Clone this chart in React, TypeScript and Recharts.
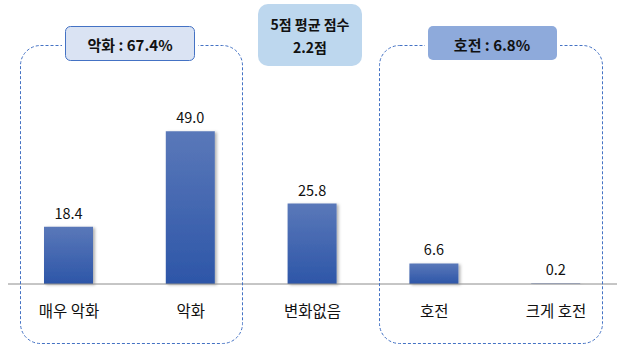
import { BarChart, Bar, XAxis, YAxis, LabelList } from "recharts";

const categories = ["매우 악화", "악화", "변화없음", "호전", "크게 호전"];
const values = [18.4, 49.0, 25.8, 6.6, 0.2];

const worseLabel = "악화 : 67.4%";
const betterLabel = "호전 : 6.8%";
const avgLines = ["5점 평균 점수", "2.2점"];

const data = categories.map((name, i) => ({ name, value: values[i] }));

const FONT = "'Noto Sans CJK KR', 'Noto Sans', sans-serif";

function CategoryTick(props: any) {
  const { x, y, payload } = props;
  return (
    <text
      x={x}
      y={y + 26}
      textAnchor="middle"
      dominantBaseline="central"
      fontSize={15.5}
      fontFamily={FONT}
      fill="#111"
    >
      {payload.value}
    </text>
  );
}

function Overlay() {
  const dash = "3 2";
  return (
    <svg
      width={625}
      height={346}
      style={{ position: "absolute", left: 0, top: 0, pointerEvents: "none" }}
      fontFamily={FONT}
    >
      {/* group frames */}
      <rect x={20.5} y={45.5} width={222} height={298} rx={20} fill="none" stroke="#4472c4" strokeDasharray={dash} />
      <rect x={379.5} y={45.5} width={223} height={298} rx={20} fill="none" stroke="#4472c4" strokeDasharray={dash} />

      {/* 악화 label */}
      <rect x={62} y={40} width={136} height={12} fill="#fff" />
      <rect x={65.5} y={26.5} width={129} height={34} rx={5} fill="#dae3f3" stroke="#4472c4" />
      <text x={130} y={44} textAnchor="middle" dominantBaseline="central" fontSize={15} fontWeight="bold" fill="#111">
        {worseLabel}
      </text>

      {/* 호전 label */}
      <rect x={425} y={40} width={135} height={12} fill="#fff" />
      <rect x={428} y={26} width={129} height={34} rx={5} fill="#8eaadb" />
      <text x={492} y={44} textAnchor="middle" dominantBaseline="central" fontSize={15} fontWeight="bold" fill="#111">
        {betterLabel}
      </text>

      {/* 평균 점수 */}
      <rect x={258} y={4} width={104} height={62} rx={10} fill="#bdd7ee" />
      <text x={310} y={24} textAnchor="middle" dominantBaseline="central" fontSize={14} fontWeight="bold" fill="#111">
        {avgLines[0]}
      </text>
      <text x={310} y={47} textAnchor="middle" dominantBaseline="central" fontSize={14} fontWeight="bold" fill="#111">
        {avgLines[1]}
      </text>
    </svg>
  );
}

export default function App() {
  return (
    <div style={{ position: "relative", width: 625, height: 346, background: "#fff" }}>
      <style>{`body{margin:0}`}</style>
      <BarChart
        width={625}
        height={346}
        data={data}
        margin={{ top: 97, right: 8, bottom: 22, left: 8 }}
      >
        <defs>
          <linearGradient id="barGrad" x1="0" y1="0" x2="0" y2="1">
            <stop offset="0%" stopColor="#5a78b9" />
            <stop offset="100%" stopColor="#2d56a8" />
          </linearGradient>
          <filter id="barShadow" x="-20%" y="-20%" width="150%" height="140%">
            <feDropShadow dx={2} dy={1} stdDeviation={1.5} floodColor="#000" floodOpacity={0.3} />
          </filter>
        </defs>
        <XAxis
          dataKey="name"
          height={40}
          tickLine={false}
          tickSize={0}
          tickMargin={0}
          axisLine={{ stroke: "#8c8c8c" }}
          tick={<CategoryTick />}
          interval={0}
        />
        <YAxis hide domain={[0, 60]} />
        <Bar
          dataKey="value"
          barSize={49}
          fill="url(#barGrad)"
          filter="url(#barShadow)"
          isAnimationActive={false}
        >
          <LabelList
            dataKey="value"
            position="top"
            offset={8}
            formatter={(v: any) => Number(v).toFixed(1)}
            fontSize={14.5}
            fontFamily={FONT}
            fill="#111"
          />
        </Bar>
      </BarChart>
      <Overlay />
    </div>
  );
}
